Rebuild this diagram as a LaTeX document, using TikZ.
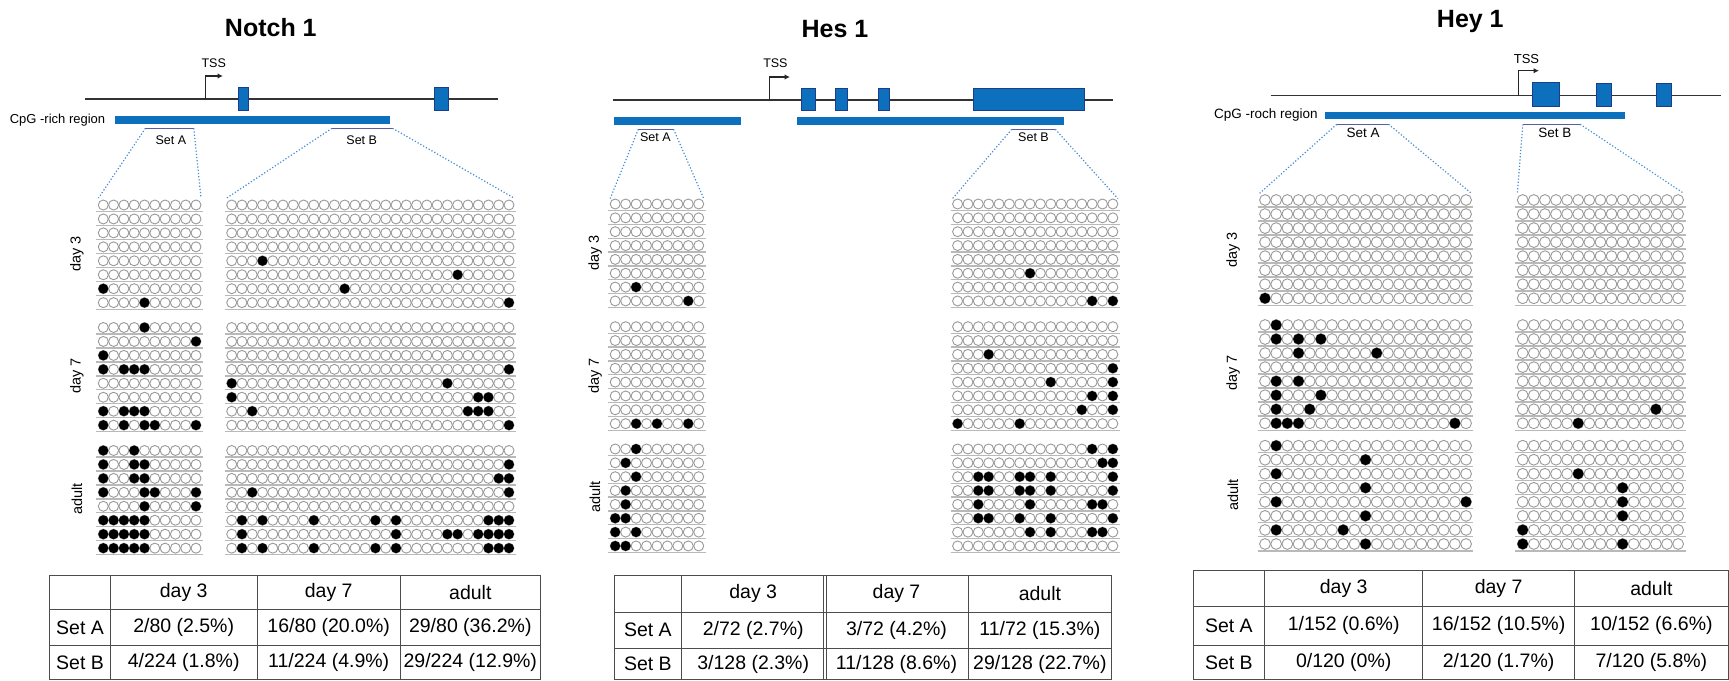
\documentclass[tikz,border=0pt]{standalone}
\usepackage{fontspec}
\setmainfont{Liberation Sans}
\usetikzlibrary{arrows.meta}
\definecolor{cpgblue}{RGB}{12,112,188}
\definecolor{exonline}{RGB}{30,60,140}
\definecolor{setpurple}{RGB}{90,90,165}
\definecolor{dotblue}{RGB}{70,140,210}

% one block of 8 clones: x of first CpG, y of first clone, dx, dy, CpGs, radius
\newcommand{\cpggrid}[6]{%
  \foreach \r in {1,...,8}{%
    \draw[rowline] ({#1-#6-2},{#2+(\r-1)*#4+#6+1.5}) -- ({#1+(#5-1)*#3+#6+2},{#2+(\r-1)*#4+#6+1.5});
    \foreach \c in {1,...,#5}
      \draw[cpg] ({#1+(\c-1)*#3},{#2+(\r-1)*#4}) circle[radius=#6];
  }}
% methylated CpGs as clone/CpG pairs
\newcommand{\cpgfill}[6]{%
  \foreach \r/\c in {#6}
    \fill ({#1+(\c-1)*#3},{#2+(\r-1)*#4}) circle[radius=#5];}

\begin{document}
\begin{tikzpicture}[
  x=1pt, y=-1pt,
  title/.style={font=\fontsize{25}{29}\selectfont\bfseries},
  lbl/.style={font=\fontsize{12.5}{14}\selectfont, inner sep=0pt},
  day/.style={font=\fontsize{14.5}{16}\selectfont, rotate=90, inner sep=0pt},
  cell/.style={font=\fontsize{19.5}{22}\selectfont, inner sep=0pt},
  gene/.style={line width=1.2pt, black!80},
  tss/.style={line width=1.3pt, black!85, -{Latex[length=5.5pt,width=5.5pt]}},
  exon/.style={fill=cpgblue, draw=exonline, line width=0.8pt},
  setline/.style={draw=setpurple, line width=1.3pt},
  zoomline/.style={draw=dotblue, dotted, line width=1.2pt},
  cpg/.style={draw=gray!80, line width=0.9pt, fill=white},
  rowline/.style={draw=gray!55, line width=1.3pt},
  tbl/.style={draw=gray!60!black, line width=0.8pt}
]
\useasboundingbox[fill=white] (0,0) rectangle (1729,680);

% ---- Notch 1 ----
\node[title] (n-title) at (270.8,28) {Notch 1};
\draw[gene] (85.4,99) -- (498,99);
\draw[exon] (238.8,87) rectangle (248.3,110);
\draw[exon] (434.4,87) rectangle (447.9,110);
\fill[cpgblue] (114.5,116) rectangle (389.7,124);
\node[lbl, font=\fontsize{13}{15}\selectfont, anchor=east] (n-cpg) at (105.4,120) {CpG -rich region};
\draw[tss] (205.4,99) |- (223,76);
\node[lbl] (n-tss) at (213.7,63) {TSS};
\coordinate (n-a1) at (145.4,128.3); \coordinate (n-a2) at (193.8,128.3);
\coordinate (n-b1) at (331.9,128.3); \coordinate (n-b2) at (392.6,128.3);
\draw[setline] (n-a1) -- (n-a2);
\draw[setline] (n-b1) -- (n-b2);
\node[lbl] (n-seta) at (170.9,140) {Set A};
\node[lbl] (n-setb) at (361.7,140) {Set B};
\coordinate (n-ga1) at (98.5,198); \coordinate (n-ga2) at (201,198);
\coordinate (n-gb1) at (226.7,198); \coordinate (n-gb2) at (514,198);
\draw[zoomline] (n-a1) -- (n-ga1);
\draw[zoomline] (n-a2) -- (n-ga2);
\draw[zoomline] (n-b1) -- (n-gb1);
\draw[zoomline] (n-b2) -- (n-gb2);

\node[day] (n-d3) at (77,254) {day 3};
\node[day] (n-d7) at (77,376) {day 7};
\node[day] (n-ad) at (77,499) {adult};
\cpggrid{103.3}{205}{10.3}{13.95}{10}{5}
\cpggrid{231.7}{205}{10.27}{13.95}{28}{5}
\cpggrid{103.3}{327.5}{10.3}{13.95}{10}{5}
\cpggrid{231.7}{327.5}{10.27}{13.95}{28}{5}
\cpggrid{103.3}{450.5}{10.3}{13.95}{10}{5}
\cpggrid{231.7}{450.5}{10.27}{13.95}{28}{5}
\cpgfill{103.3}{205}{10.3}{13.95}{5}{7/1,8/5}
\cpgfill{231.7}{205}{10.27}{13.95}{5}{5/4,6/23,7/12,8/28}
\cpgfill{103.3}{327.5}{10.3}{13.95}{5}{1/5,2/10,3/1,4/1,4/3,4/4,4/5,7/1,7/3,7/4,7/5,8/1,8/3,8/5,8/6,8/10}
\cpgfill{231.7}{327.5}{10.27}{13.95}{5}{4/28,5/1,5/22,6/1,6/25,6/26,7/3,7/24,7/25,7/26,8/28}
\cpgfill{103.3}{450.5}{10.3}{13.95}{5}{1/1,1/4,2/1,2/4,2/5,3/1,3/4,3/5,4/1,4/5,4/6,4/10,5/5,5/10,6/1,6/2,6/3,6/4,6/5,7/1,7/2,7/3,7/4,7/5,8/1,8/2,8/3,8/4,8/5}
\cpgfill{231.7}{450.5}{10.27}{13.95}{5}{2/28,3/27,3/28,4/3,4/28,6/2,6/4,6/9,6/15,6/17,6/26,6/27,6/28,7/2,7/17,7/22,7/23,7/25,7/26,7/27,7/28,8/2,8/4,8/9,8/15,8/17,8/26,8/27,8/28}

\draw[tbl] (49.6,575.6) rectangle (540.3,679.5);
\foreach \y in {609.8,645} \draw[tbl] (49.6,\y) -- (540.3,\y);
\foreach \x in {110.3,257,400.3} \draw[tbl] (\x,575.6) -- (\x,679.5);
\node[cell] (n-h3) at (183.7,592.7) {day 3};
\node[cell] (n-h7) at (328.7,592.7) {day 7};
\node[cell] (n-ha) at (470.3,592.7) {adult};
\node[cell] (n-ra) at (80,627.4) {Set A};
\node[cell] (n-rb) at (80,662.5) {Set B};
\node[cell] (n-a3) at (183.7,627.4) {2/80 (2.5\%)};
\node[cell] (n-a7) at (328.7,627.4) {16/80 (20.0\%)};
\node[cell] (n-aa) at (470.3,627.4) {29/80 (36.2\%)};
\node[cell] (n-b3) at (183.7,662.5) {4/224 (1.8\%)};
\node[cell] (n-b7) at (328.7,662.5) {11/224 (4.9\%)};
\node[cell] (n-ba) at (470.3,662.5) {29/224 (12.9\%)};

% ---- Hes 1 ----
\node[title] (h-title) at (835,29) {Hes 1};
\draw[gene] (612.9,100) -- (1112.7,100);
\draw[exon] (801.6,88) rectangle (815.4,110.7);
\draw[exon] (835.4,88) rectangle (847,110.7);
\draw[exon] (878.3,88) rectangle (889.2,110.7);
\draw[exon] (973.5,88) rectangle (1084.4,110.7);
\fill[cpgblue] (613.6,116.7) rectangle (740.9,125);
\fill[cpgblue] (797.2,116.7) rectangle (1063.7,125);
\draw[tss] (769.2,100) |- (790,77);
\node[lbl] (h-tss) at (775.4,63.3) {TSS};
\coordinate (h-a1) at (638.3,129.3); \coordinate (h-a2) at (673.6,129.3);
\coordinate (h-b1) at (1011.7,129.3); \coordinate (h-b2) at (1055.3,129.3);
\draw[setline] (h-a1) -- (h-a2);
\draw[setline] (h-b1) -- (h-b2);
\node[lbl] (h-seta) at (655.4,137.5) {Set A};
\node[lbl] (h-setb) at (1033.5,137.5) {Set B};
\coordinate (h-ga1) at (610.2,198.5); \coordinate (h-ga2) at (703.7,198.5);
\coordinate (h-gb1) at (952.6,198.5); \coordinate (h-gb2) at (1117.8,198.5);
\draw[zoomline] (h-a1) -- (h-ga1);
\draw[zoomline] (h-a2) -- (h-ga2);
\draw[zoomline] (h-b1) -- (h-gb1);
\draw[zoomline] (h-b2) -- (h-gb2);

\node[day] (h-d3) at (595,253) {day 3};
\node[day] (h-d7) at (595,376) {day 7};
\node[day] (h-ad) at (595,497) {adult};
\cpggrid{615.2}{204}{10.44}{13.85}{9}{5}
\cpggrid{957.6}{204}{10.35}{13.85}{16}{5}
\cpggrid{615.2}{326.7}{10.44}{13.85}{9}{5}
\cpggrid{957.6}{326.7}{10.35}{13.85}{16}{5}
\cpggrid{615.2}{449}{10.44}{13.85}{9}{5}
\cpggrid{957.6}{449}{10.35}{13.85}{16}{5}
\cpgfill{615.2}{204}{10.44}{13.85}{5}{7/3,8/8}
\cpgfill{957.6}{204}{10.35}{13.85}{5}{6/8,8/14,8/16}
\cpgfill{615.2}{326.7}{10.44}{13.85}{5}{8/3,8/5,8/8}
\cpgfill{957.6}{326.7}{10.35}{13.85}{5}{3/4,4/16,5/10,5/16,6/14,6/16,7/13,7/16,8/1,8/7}
\cpgfill{615.2}{449}{10.44}{13.85}{5}{1/3,2/2,3/3,4/2,5/2,6/1,6/2,7/1,7/3,8/1,8/2}
\cpgfill{957.6}{449}{10.35}{13.85}{5}{1/14,1/16,2/15,2/16,3/3,3/4,3/7,3/8,3/10,3/16,4/3,4/4,4/7,4/8,4/10,4/16,5/3,5/8,5/14,5/15,6/3,6/4,6/7,6/10,6/16,7/8,7/10,7/14,7/15}

\draw[tbl] (614.2,575.6) rectangle (1111.5,679.5);
\foreach \y in {612,648.4} \draw[tbl] (614.2,\y) -- (1111.5,\y);
\foreach \x in {681.5,823.3,826.3,968.2} \draw[tbl] (\x,575.6) -- (\x,679.5);
\node[cell] (h-h3) at (753.2,593.8) {day 3};
\node[cell] (h-h7) at (896.5,593.8) {day 7};
\node[cell] (h-ha) at (1039.9,593.8) {adult};
\node[cell] (h-ra) at (647.9,630.2) {Set A};
\node[cell] (h-rb) at (647.9,664) {Set B};
\node[cell] (h-a3) at (753.2,630.2) {2/72 (2.7\%)};
\node[cell] (h-a7) at (896.5,630.2) {3/72 (4.2\%)};
\node[cell] (h-aa) at (1039.9,630.2) {11/72 (15.3\%)};
\node[cell] (h-b3) at (753.2,664) {3/128 (2.3\%)};
\node[cell] (h-b7) at (896.5,664) {11/128 (8.6\%)};
\node[cell] (h-ba) at (1039.9,664) {29/128 (22.7\%)};

% ---- Hey 1 ----
\node[title] (y-title) at (1470.3,21.7) {Hey 1};
\draw[gene] (1270.7,95.7) -- (1720.7,95.7);
\draw[exon] (1532.7,82.7) rectangle (1559.2,106);
\draw[exon] (1596.5,83.3) rectangle (1611.8,106);
\draw[exon] (1656.4,83.3) rectangle (1671.7,106);
\fill[cpgblue] (1325.1,111.7) rectangle (1624.5,119.3);
\node[lbl, font=\fontsize{13.5}{15}\selectfont, anchor=east] (y-cpg) at (1317.9,115) {CpG -roch region};
\draw[tss] (1518.2,95.7) |- (1539,70.7);
\node[lbl, font=\fontsize{13}{15}\selectfont] (y-tss) at (1526.5,59.3) {TSS};
\coordinate (y-a1) at (1336.7,124.3); \coordinate (y-a2) at (1388.6,124.3);
\coordinate (y-b1) at (1522.9,124.3); \coordinate (y-b2) at (1580.2,124.3);
\draw[setline] (y-a1) -- (y-a2);
\draw[setline] (y-b1) -- (y-b2);
\node[lbl, font=\fontsize{13.5}{15}\selectfont] (y-seta) at (1363.2,133) {Set A};
\node[lbl, font=\fontsize{13.5}{15}\selectfont] (y-setb) at (1554.8,133) {Set B};
\coordinate (y-ga1) at (1259.6,193.3); \coordinate (y-ga2) at (1471.4,193.3);
\coordinate (y-gb1) at (1517.3,193.3); \coordinate (y-gb2) at (1683.7,193.3);
\draw[zoomline] (y-a1) -- (y-ga1);
\draw[zoomline] (y-a2) -- (y-ga2);
\draw[zoomline] (y-b1) -- (y-gb1);
\draw[zoomline] (y-b2) -- (y-gb2);

\node[day] (y-d3) at (1233,250) {day 3};
\node[day] (y-d7) at (1233,373) {day 7};
\node[day] (y-ad) at (1233,495) {adult};
\cpggrid{1265}{200}{11.17}{14.04}{19}{5.4}
\cpggrid{1522.7}{200}{11.1}{14.04}{15}{5.4}
\cpggrid{1265}{325}{11.17}{14.04}{19}{5.4}
\cpggrid{1522.7}{325}{11.1}{14.04}{15}{5.4}
\cpggrid{1265}{445.7}{11.17}{14.04}{19}{5.4}
\cpggrid{1522.7}{445.7}{11.1}{14.04}{15}{5.4}
\cpgfill{1265}{200}{11.17}{14.04}{5.4}{8/1}
\cpgfill{1265}{325}{11.17}{14.04}{5.4}{1/2,2/2,2/4,2/6,3/4,3/11,5/2,5/4,6/2,6/6,7/2,7/5,8/2,8/3,8/4,8/18}
\cpgfill{1522.7}{325}{11.1}{14.04}{5.4}{7/13,8/6}
\cpgfill{1265}{445.7}{11.17}{14.04}{5.4}{1/2,2/10,3/2,4/10,5/2,5/19,6/10,7/2,7/8,8/10}
\cpgfill{1522.7}{445.7}{11.1}{14.04}{5.4}{3/6,4/10,5/10,6/10,7/1,8/1,8/10}

\draw[tbl] (1193,570) rectangle (1728,679.5);
\foreach \y in {606.5,645} \draw[tbl] (1193,\y) -- (1728,\y);
\foreach \x in {1264.8,1422.5,1574.7} \draw[tbl] (\x,570) -- (\x,679.5);
\node[cell] (y-h3) at (1343.7,588.3) {day 3};
\node[cell] (y-h7) at (1498.6,588.3) {day 7};
\node[cell] (y-ha) at (1651.4,588.3) {adult};
\node[cell] (y-ra) at (1228.9,625.8) {Set A};
\node[cell] (y-rb) at (1228.9,662.3) {Set B};
\node[cell] (y-a3) at (1343.7,625.8) {1/152 (0.6\%)};
\node[cell] (y-a7) at (1498.6,625.8) {16/152 (10.5\%)};
\node[cell] (y-aa) at (1651.4,625.8) {10/152 (6.6\%)};
\node[cell] (y-b3) at (1343.7,662.3) {0/120 (0\%)};
\node[cell] (y-b7) at (1498.6,662.3) {2/120 (1.7\%)};
\node[cell] (y-ba) at (1651.4,662.3) {7/120 (5.8\%)};
\end{tikzpicture}
\end{document}
